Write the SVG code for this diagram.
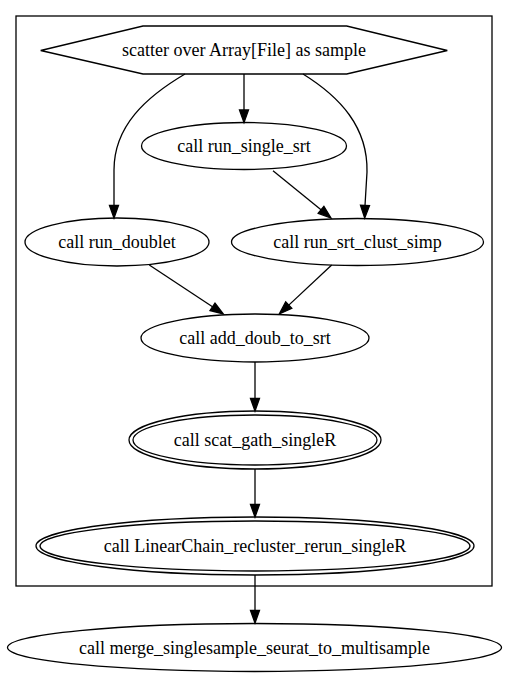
<svg xmlns="http://www.w3.org/2000/svg" width="509" height="677" viewBox="0 0 509 677">
<style>
.n{fill:none;stroke:#000;stroke-width:1.3}
.t{font-family:"Liberation Serif","Times New Roman",serif;font-size:18px;fill:#000;text-anchor:middle}
.e{fill:none;stroke:#000;stroke-width:1.3}
.a{fill:#000;stroke:#000;stroke-width:1.3}
</style>
<rect width="509" height="677" fill="#fff"/>
<g id="cluster_scatter">
<rect x="16" y="16" width="476" height="570" class="n"/>
</g>
<g id="connectors">
<path class="e" d="M244,74 L244,110"/>
<polygon class="a" points="239.5,110 244,122.5 248.5,110"/>
<path class="e" d="M185,74 C146,97 114,126 114,170 L114,205.5"/>
<polygon class="a" points="109.5,205.5 114,218 118.5,205.5"/>
<path class="e" d="M303,74 C340,97 368,127 367,172 L365,205.5"/>
<polygon class="a" points="360.5,205.3 364.7,218 369.5,205.7"/>
<path class="e" d="M273,170.7 L321,209.8"/>
<polygon class="a" points="318.2,213.3 331,218 323.9,206.3"/>
<path class="e" d="M149.3,265 L212.5,306.8"/>
<polygon class="a" points="210,310.5 223.3,314 215,303"/>
<path class="e" d="M331.7,265 L288.8,305.1"/>
<polygon class="a" points="285.7,301.8 279.3,314 291.8,308.4"/>
<path class="e" d="M255,362 L255,398.5"/>
<polygon class="a" points="250.5,398.5 255,411 259.5,398.5"/>
<path class="e" d="M255,469 L255,504.5"/>
<polygon class="a" points="250.5,504.5 255,517 259.5,504.5"/>
<path class="e" d="M255,575 L255,610.5"/>
<polygon class="a" points="250.5,610.5 255,623 259.5,610.5"/>
</g>
<g id="node_scatter">
<polygon class="n" points="40.7,50.5 143,26 346.7,26 447.3,50.5 346.7,74 143,74"/>
<text class="t" x="244" y="56">scatter over Array[File] as sample</text>
</g>
<g id="node_run_single_srt">
<ellipse class="n" cx="244" cy="146" rx="102.5" ry="23.5"/>
<text class="t" x="244" y="152">call run_single_srt</text>
</g>
<g id="node_run_doublet">
<ellipse class="n" cx="117" cy="242" rx="92" ry="24"/>
<text class="t" x="117" y="248">call run_doublet</text>
</g>
<g id="node_run_srt_clust_simp">
<ellipse class="n" cx="357.5" cy="242" rx="126" ry="23.5"/>
<text class="t" x="357.5" y="248">call run_srt_clust_simp</text>
</g>
<g id="node_add_doub_to_srt">
<ellipse class="n" cx="255" cy="338" rx="114" ry="24"/>
<text class="t" x="255" y="344">call add_doub_to_srt</text>
</g>
<g id="node_scat_gath_singleR">
<ellipse class="n" cx="255" cy="440" rx="122" ry="25"/>
<ellipse class="n" cx="255" cy="440" rx="126" ry="29"/>
<text class="t" x="255" y="446">call scat_gath_singleR</text>
</g>
<g id="node_LinearChain_recluster_rerun_singleR">
<ellipse class="n" cx="255" cy="546" rx="215" ry="25"/>
<ellipse class="n" cx="255" cy="546" rx="219" ry="29"/>
<text class="t" x="255" y="552">call LinearChain_recluster_rerun_singleR</text>
</g>
<g id="node_merge">
<ellipse class="n" cx="254.5" cy="647.5" rx="247" ry="24"/>
<text class="t" x="254.5" y="653.5">call merge_singlesample_seurat_to_multisample</text>
</g>
</svg>
